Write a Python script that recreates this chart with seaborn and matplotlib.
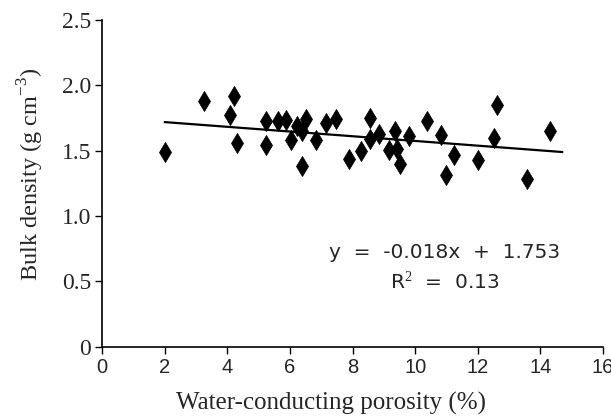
import matplotlib
matplotlib.use("Agg")
import matplotlib.pyplot as plt
import seaborn as sns
import pandas as pd

# data
porosity = [2.0, 3.25, 4.22, 4.10, 4.31, 5.23, 5.25, 5.63, 5.89, 6.05,
            6.24, 6.50, 6.40, 6.40, 6.84, 7.15, 7.46, 7.88, 8.27, 8.55,
            8.57, 8.85, 9.15, 9.36, 9.41, 9.50, 9.79, 10.39, 10.83, 11.25,
            11.00, 12.01, 12.51, 12.62, 13.56, 14.31]
bulk_density = [1.49, 1.88, 1.92, 1.77, 1.555, 1.727, 1.54, 1.727, 1.735, 1.58,
                1.69, 1.74, 1.646, 1.38, 1.583, 1.707, 1.74, 1.436, 1.50, 1.75,
                1.588, 1.628, 1.507, 1.65, 1.512, 1.395, 1.613, 1.722, 1.62, 1.463,
                1.31, 1.43, 1.598, 1.844, 1.286, 1.65]
slope, intercept = -0.018, 1.753
trend_x = [2.0, 14.7]

df = pd.DataFrame({"porosity": porosity, "bd": bulk_density})
trend = pd.DataFrame({"x": trend_x,
                      "y": [slope * v + intercept for v in trend_x]})

sns.set_style("ticks")
serif = ["Liberation Serif", "DejaVu Serif"]
sans = ["Liberation Sans", "DejaVu Sans"]
plt.rcParams["mathtext.fontset"] = "custom"
plt.rcParams["mathtext.rm"] = "Liberation Serif"

fig = plt.figure(figsize=(6.11, 4.16), dpi=100)
ax = fig.add_axes([0.167, 0.166, 0.820, 0.787])

sns.scatterplot(data=df, x="porosity", y="bd", ax=ax, marker="d",
                s=105, color="black", edgecolor="black", linewidth=0.5,
                zorder=3)
sns.lineplot(data=trend, x="x", y="y", ax=ax, color="black",
             linewidth=1.6, zorder=2)

ax.set_xlim(0, 16)
ax.set_ylim(0, 2.5)
ax.set_xticks(range(0, 17, 2))
ax.set_yticks([0, 0.5, 1.0, 1.5, 2.0, 2.5])
ax.set_yticklabels(["0", "0.5", "1.0", "1.5", "2.0", "2.5"],
                   family=serif, fontsize=17)
ax.set_xticklabels([str(t) for t in range(0, 17, 2)], family=sans,
                   fontsize=14.5)
ax.tick_params(direction="out", length=5, width=1, color="black", pad=3)

ax.set_xlabel("Water-conducting porosity (%)", family=serif, fontsize=18)
ax.set_ylabel("Bulk density (g cm$^{\\mathrm{-3}}$)", family=serif,
              fontsize=17.5)
ax.xaxis.label.set_verticalalignment("center")
ax.yaxis.label.set_verticalalignment("center")
ax.xaxis.set_label_coords(0.457, -0.172)
ax.yaxis.set_label_coords(-0.142, 0.527)
for sp in ("left", "bottom"):
    ax.spines[sp].set_linewidth(1.2)
    ax.spines[sp].set_color("black")
sns.despine(ax=ax)

ax.text(10.93, 0.72, "y  =  -0.018x  +  1.753", ha="center", va="center",
        family=["DejaVu Sans"], fontsize=14.5)
ax.text(10.93, 0.50, "R$^2$  =  0.13", ha="center", va="center",
        family=["DejaVu Sans"], fontsize=14.5)

fig.savefig("out.png", dpi=100)
